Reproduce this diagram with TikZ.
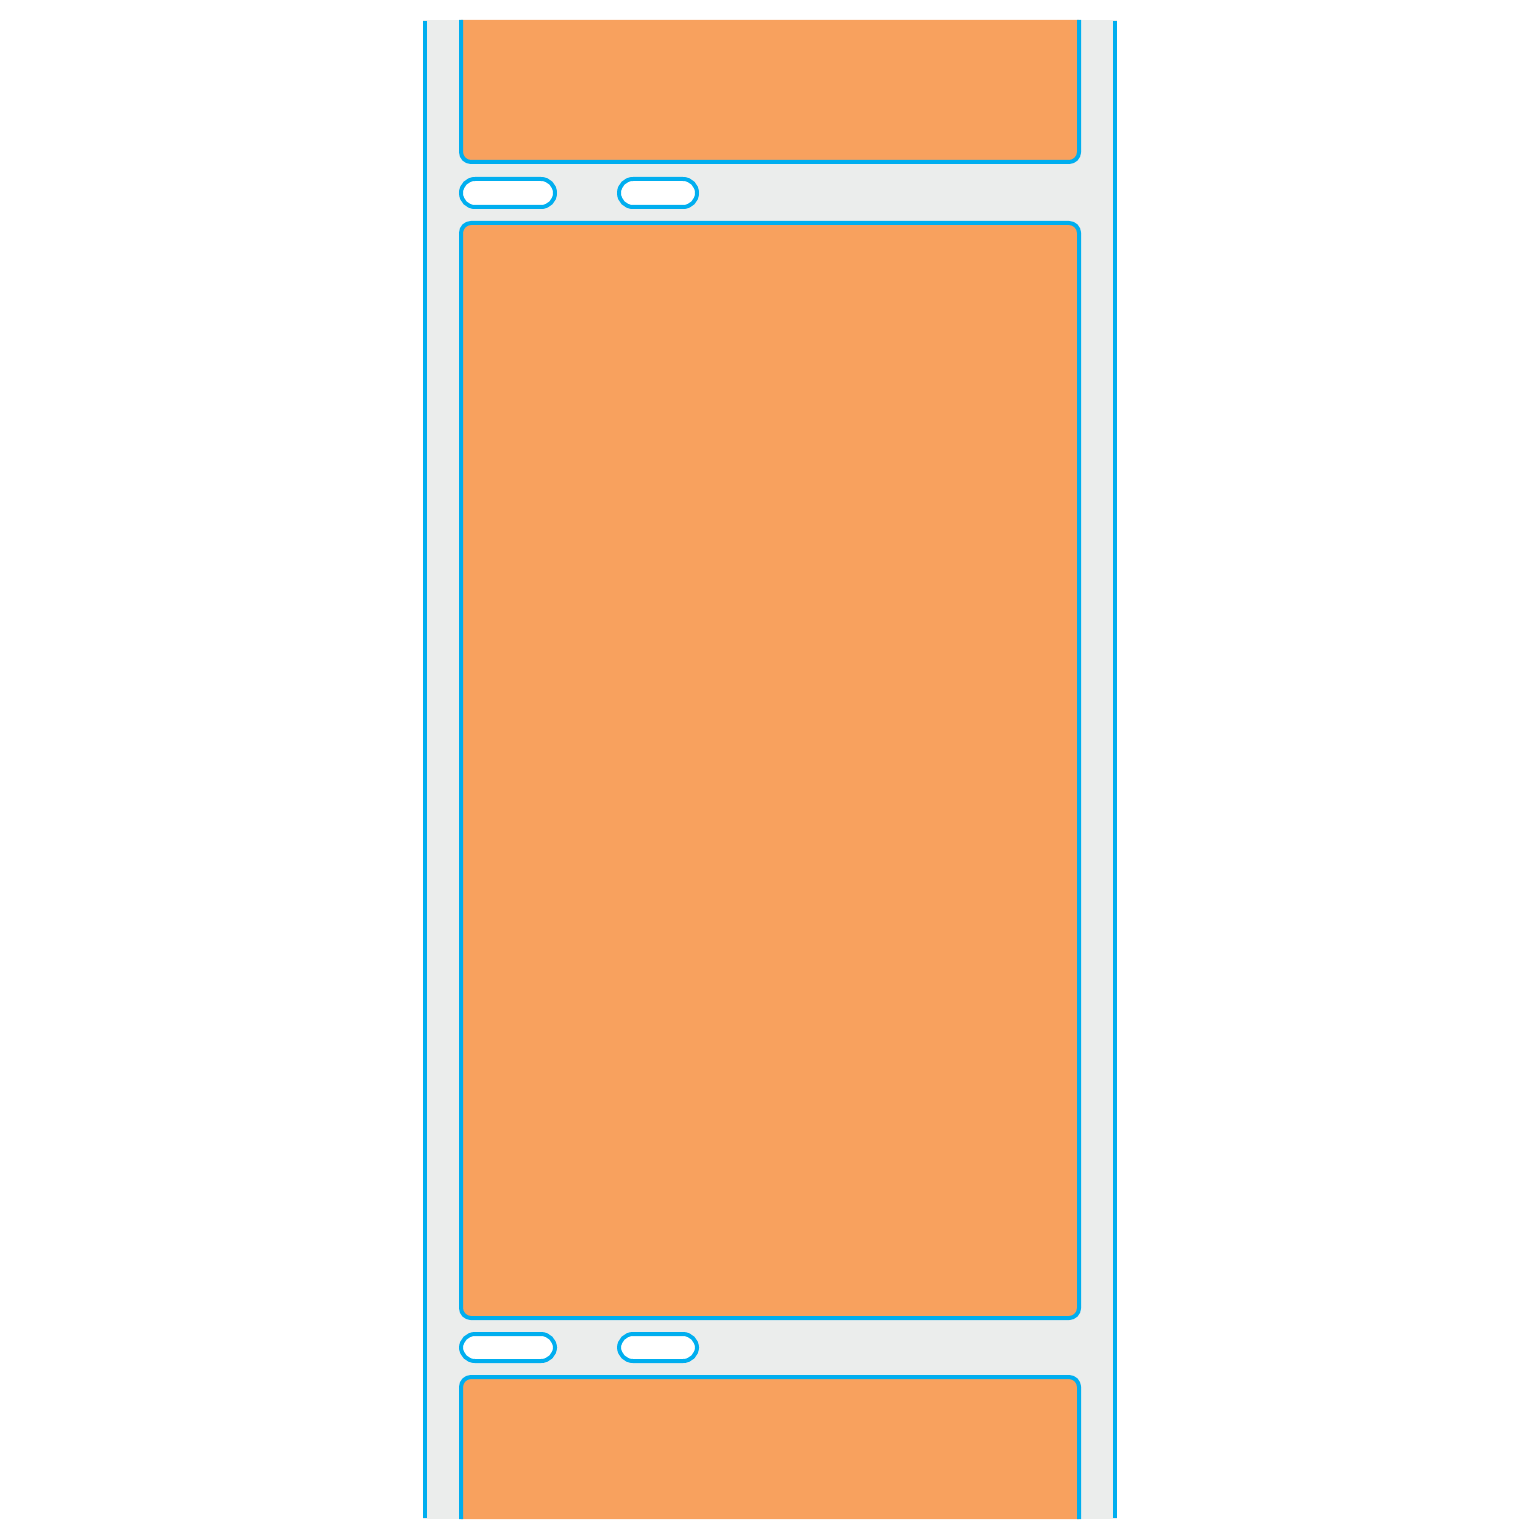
\documentclass[tikz,border=0pt]{standalone}
\definecolor{labelorange}{RGB}{248,161,94}
\definecolor{edgeblue}{RGB}{0,174,239}
\definecolor{linergray}{RGB}{235,237,236}
\begin{document}
\begin{tikzpicture}[x=0.5pt, y=-0.5pt,
    liner/.style={fill=linergray, draw=none},
    rail/.style={draw=edgeblue, line width=2.2pt},
    label/.style={fill=labelorange, draw=edgeblue, line width=2pt, rounded corners=5pt},
    slot/.style={fill=white, draw=edgeblue, line width=2pt, rounded corners=7pt}]

    \useasboundingbox (0,0) rectangle (1540,1540);

    % Liner
    \path[liner] (423,20) rectangle (1117,1519);
    \draw[rail] (425,21) -- (425,1518);
    \draw[rail] (1115,21) -- (1115,1518);

    % Labels
    \draw[label] (461,20) -- (461,162) -- (1079,162) -- (1079,20);
    \draw[label] (461,223) rectangle (1079,1318);
    \draw[label] (461,1519) -- (461,1377) -- (1079,1377) -- (1079,1519);

    % Slots
    \draw[slot] (461,179) rectangle (555,207);
    \draw[slot] (619,179) rectangle (697,207);
    \draw[slot] (461,1334) rectangle (555,1361);
    \draw[slot] (619,1334) rectangle (697,1361);

\end{tikzpicture}
\end{document}
